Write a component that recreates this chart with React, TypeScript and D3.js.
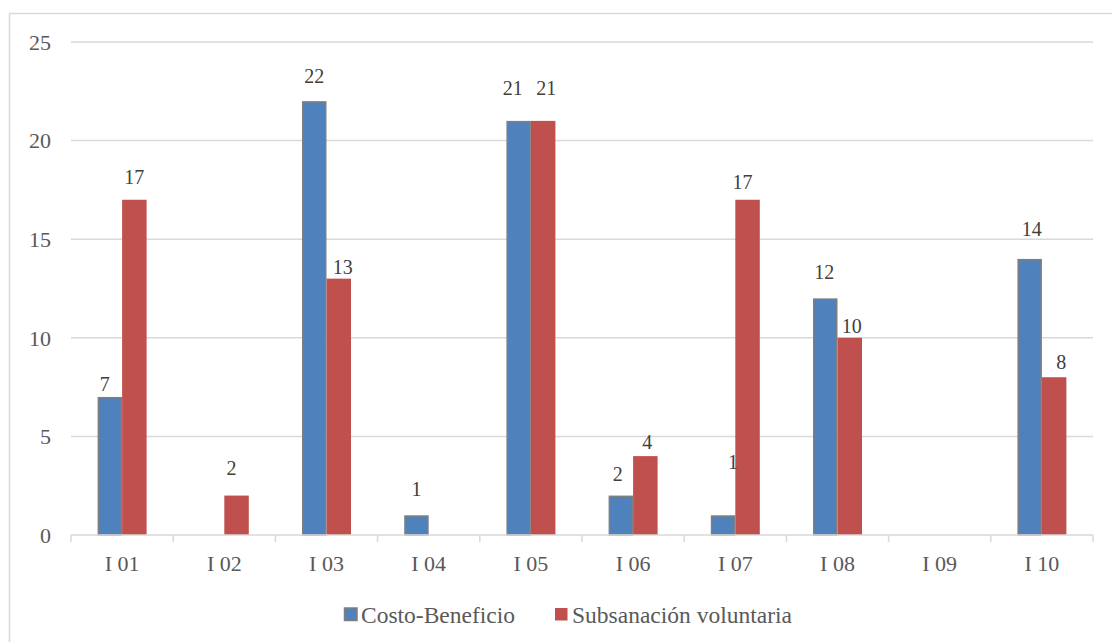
import React from "react";
import * as d3 from "d3";

// Indicators on the horizontal axis
const categories = ["I 01", "I 02", "I 03", "I 04", "I 05", "I 06", "I 07", "I 08", "I 09", "I 10"];
// Series values (0 = no bar, no label)
const costoBeneficio = [7, 0, 22, 1, 21, 2, 1, 12, 0, 14];
const subsanacion = [17, 2, 13, 0, 21, 4, 17, 10, 0, 8];
const yTicks = [0, 5, 10, 15, 20, 25];
const seriesNames = ["Costo-Beneficio", "Subsanación voluntaria"];

// Label nudges: [dx, height of label centre above bar top]
const labelNudgeA: [number, number][] = [[-5, 13], [0, 0], [0, 25], [0, 26], [-6, 33], [-3, 22], [10, 53], [-1, 26], [0, 0], [2, 30]];
const labelNudgeB: [number, number][] = [[0, 23], [-5, 28], [4, 12], [0, 0], [3, 33], [2, 14], [-5, 18], [2, 12], [0, 0], [7, 15]];

const W = 1112;
const H = 642;
const plot = { left: 71, right: 1093, top: 42, bottom: 535 };
const BAR_W = 24.5;
const FONT = "'Liberation Serif', 'Times New Roman', serif";

export default function App() {
  const x = d3.scaleBand<string>().domain(categories).range([plot.left, plot.right]).paddingInner(0).paddingOuter(0);
  const y = d3.scaleLinear().domain([0, 25]).range([plot.bottom, plot.top]);
  const band = x.bandwidth();

  const series = [
    { name: seriesNames[0], values: costoBeneficio, fill: "#4f81bd", stroke: "#7f7f7f", offset: -BAR_W, nudge: labelNudgeA },
    { name: seriesNames[1], values: subsanacion, fill: "#c0504d", stroke: "none", offset: 0, nudge: labelNudgeB },
  ];

  return (
    <svg width={W} height={H} style={{ position: "absolute", left: 0, top: 0, display: "block" }} fontFamily={FONT}>
      <rect x={0} y={0} width={W} height={H} fill="#ffffff" />
      {/* chart frame */}
      <rect x={9.5} y={13.5} width={1120} height={660} fill="none" stroke="#d9d9d9" strokeWidth={1.5} />

      {/* gridlines */}
      {yTicks.filter((t) => t > 0).map((t) => (
        <line key={t} x1={plot.left} x2={plot.right} y1={y(t)} y2={y(t)} stroke="#d9d9d9" strokeWidth={1.5} />
      ))}
      {/* y tick labels */}
      {yTicks.map((t) => (
        <text key={t} x={51} y={y(t)} dy="0.35em" textAnchor="end" fontSize={22} fill="#595959">
          {t}
        </text>
      ))}

      {/* bars */}
      {series.map((s, si) =>
        s.values.map((v, i) => {
          if (v <= 0) return null;
          const cx = (x(categories[i]) as number) + band / 2;
          return (
            <rect
              key={`${si}-${i}`}
              x={cx + s.offset + (s.stroke !== "none" ? 0.75 : 0)}
              y={y(v) + (s.stroke !== "none" ? 0.75 : 0)}
              width={BAR_W - (s.stroke !== "none" ? 1.5 : 0)}
              height={y(0) - y(v) - (s.stroke !== "none" ? 0.75 : 0)}
              fill={s.fill}
              stroke={s.stroke}
              strokeWidth={1.5}
            />
          );
        })
      )}

      {/* x axis */}
      <line x1={plot.left} x2={plot.right} y1={plot.bottom} y2={plot.bottom} stroke="#d9d9d9" strokeWidth={1.5} />
      {d3.range(categories.length + 1).map((k) => {
        const xx = plot.left + k * band;
        return <line key={k} x1={xx} x2={xx} y1={plot.bottom} y2={plot.bottom + 7} stroke="#d9d9d9" strokeWidth={1.5} />;
      })}
      {categories.map((c) => (
        <text key={c} x={(x(c) as number) + band / 2} y={563} dy="0.35em" textAnchor="middle" fontSize={22} fill="#595959">
          {c}
        </text>
      ))}

      {/* data labels */}
      {series.map((s, si) =>
        s.values.map((v, i) => {
          if (v <= 0) return null;
          const cx = (x(categories[i]) as number) + band / 2 + s.offset + BAR_W / 2;
          const [dx, lift] = s.nudge[i];
          return (
            <text key={`l-${si}-${i}`} x={cx + dx} y={y(v) - lift} dy="0.35em" textAnchor="middle" fontSize={20} fill="#404040">
              {v}
            </text>
          );
        })
      )}

      {/* legend */}
      <rect x={344.5} y={608} width={12.5} height={12.5} fill="#4f81bd" stroke="#7f7f7f" strokeWidth={1.5} />
      <text x={361} y={614.5} dy="0.35em" fontSize={23.5} fill="#595959">{seriesNames[0]}</text>
      <rect x={555} y={608} width={12.5} height={12.5} fill="#c0504d" />
      <text x={572} y={614.5} dy="0.35em" fontSize={23.5} fill="#595959">{seriesNames[1]}</text>
    </svg>
  );
}
